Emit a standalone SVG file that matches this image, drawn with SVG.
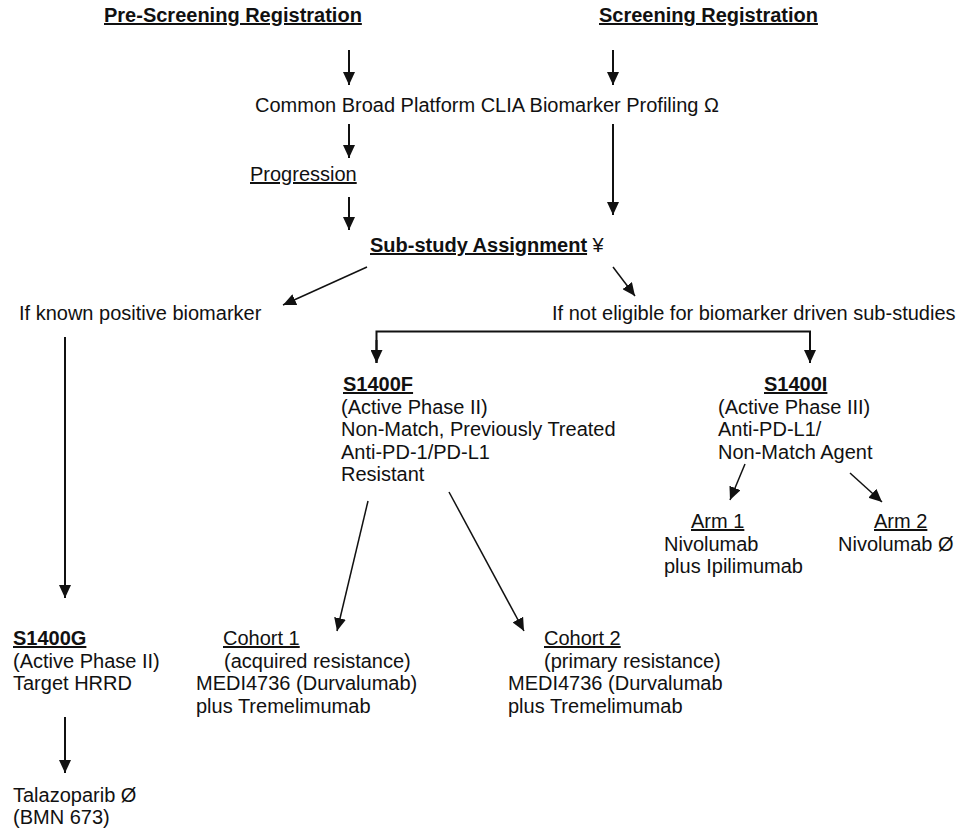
<svg xmlns="http://www.w3.org/2000/svg" width="961" height="829" viewBox="0 0 961 829">
<style>
text{font-family:"Liberation Sans",Arial,sans-serif;font-size:20px;fill:#111}
.b{font-weight:bold}
.u{text-decoration:underline}
.c line,.c path{stroke:#111;stroke-width:2;fill:none}
</style>
<defs>
<marker id="ah" markerUnits="userSpaceOnUse" markerWidth="13" markerHeight="12" refX="13" refY="6" orient="auto">
<path d="M0,0 L13,6 L0,12 z" fill="#111"/>
</marker>
</defs>
<rect width="961" height="829" fill="#fff"/>
<g class="c" id="connectors">
<line x1="349" y1="50" x2="349" y2="85" marker-end="url(#ah)"/>
<line x1="613" y1="50" x2="613" y2="85" marker-end="url(#ah)"/>
<line x1="349" y1="124" x2="349" y2="158" marker-end="url(#ah)"/>
<line x1="613" y1="124" x2="613" y2="215" marker-end="url(#ah)"/>
<line x1="349" y1="197" x2="349" y2="230" marker-end="url(#ah)"/>
<line x1="367" y1="267" x2="283" y2="305" marker-end="url(#ah)" style="stroke-width:1.5"/>
<line x1="613" y1="267" x2="635" y2="296" marker-end="url(#ah)" style="stroke-width:1.5"/>
<path d="M376.5,363 V331.5 H810 V363"/>
<line x1="376.5" y1="340" x2="376.5" y2="363" marker-end="url(#ah)"/>
<line x1="810" y1="340" x2="810" y2="363" marker-end="url(#ah)"/>
<line x1="65" y1="337" x2="65" y2="598" marker-end="url(#ah)"/>
<line x1="368" y1="501" x2="337" y2="631" marker-end="url(#ah)" style="stroke-width:1.5"/>
<line x1="449" y1="492" x2="524" y2="631" marker-end="url(#ah)" style="stroke-width:1.5"/>
<line x1="745" y1="464" x2="730" y2="500" marker-end="url(#ah)" style="stroke-width:1.5"/>
<line x1="850" y1="473" x2="882" y2="502" marker-end="url(#ah)" style="stroke-width:1.5"/>
<line x1="65" y1="717" x2="65" y2="773" marker-end="url(#ah)"/>
</g>
<g id="pre-screening"><text x="104" y="22" class="b u">Pre-Screening Registration</text></g>
<g id="screening"><text x="599" y="22" class="b u">Screening Registration</text></g>
<g id="profiling"><text x="255" y="112">Common Broad Platform CLIA Biomarker Profiling Ω</text></g>
<g id="progression"><text x="250" y="181" class="u">Progression</text></g>
<g id="assignment"><text x="370" y="252"><tspan class="b u">Sub-study Assignment</tspan> ¥</text></g>
<g id="known-positive"><text x="19" y="320">If known positive biomarker</text></g>
<g id="not-eligible"><text x="552" y="320">If not eligible for biomarker driven sub-studies</text></g>
<g id="s1400f">
<text x="343" y="391" class="b u">S1400F</text>
<text x="341" y="413.5">(Active Phase II)</text>
<text x="341" y="436">Non-Match, Previously Treated</text>
<text x="341" y="458.5">Anti-PD-1/PD-L1</text>
<text x="341" y="481">Resistant</text>
</g>
<g id="s1400i">
<text x="764" y="391" class="b u">S1400I</text>
<text x="718" y="413.5">(Active Phase III)</text>
<text x="718" y="436">Anti-PD-L1/</text>
<text x="718" y="458.5">Non-Match Agent</text>
</g>
<g id="arm1">
<text x="691" y="528" class="u">Arm 1</text>
<text x="664" y="550.5">Nivolumab</text>
<text x="664" y="573">plus Ipilimumab</text>
</g>
<g id="arm2">
<text x="874" y="528" class="u">Arm 2</text>
<text x="838" y="550.5">Nivolumab Ø</text>
</g>
<g id="s1400g">
<text x="13" y="645" class="b u">S1400G</text>
<text x="13" y="667.5">(Active Phase II)</text>
<text x="13" y="690">Target HRRD</text>
</g>
<g id="cohort1">
<text x="223" y="645" class="u">Cohort 1</text>
<text x="224" y="667.5">(acquired resistance)</text>
<text x="196" y="690">MEDI4736 (Durvalumab)</text>
<text x="196" y="712.5">plus Tremelimumab</text>
</g>
<g id="cohort2">
<text x="544" y="645" class="u">Cohort 2</text>
<text x="544" y="667.5">(primary resistance)</text>
<text x="508" y="690">MEDI4736 (Durvalumab</text>
<text x="508" y="712.5">plus Tremelimumab</text>
</g>
<g id="talazoparib">
<text x="13" y="802">Talazoparib Ø</text>
<text x="13" y="824">(BMN 673)</text>
</g>
</svg>
